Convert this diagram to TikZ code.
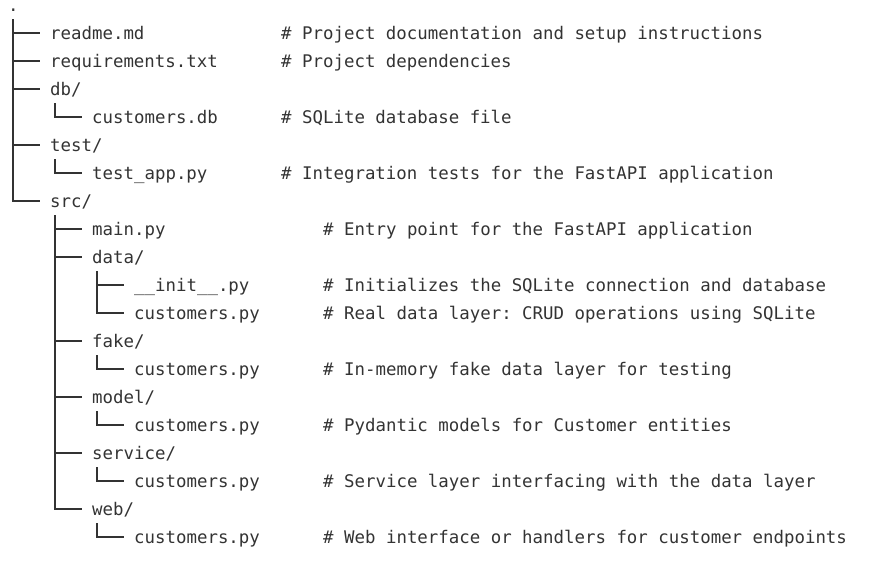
\documentclass[tikz,border=0pt]{standalone}
\usepackage{fontspec}
\setmonofont{DejaVu Sans Mono}
\usetikzlibrary{calc}
\definecolor{ink}{HTML}{333333}
\tikzset{
    entry/.style={anchor=west, inner sep=0pt, text height=12pt, text depth=0pt,
        text=ink, font=\ttfamily\fontsize{17.4}{21}\selectfont},
    branch/.style={draw=ink, line width=1.2pt, shorten >=10pt}
}
\begin{document}
\begin{tikzpicture}[x=1pt,y=-1pt]
        \useasboundingbox (0,0) rectangle (882,563);

        % the tree, one row every 28
        \node[entry, text height=2pt, anchor=base west] (root) at (8,11) {.};
        \node[entry] (readme) at (50,33) {readme.md};
        \node[entry] (req) at (50,61) {requirements.txt};
        \node[entry] (db) at (50,89) {db/};
        \node[entry] (dbfile) at (92,117) {customers.db};
        \node[entry] (test) at (50,145) {test/};
        \node[entry] (testapp) at (92,173) {test\_app.py};
        \node[entry] (src) at (50,201) {src/};
        \node[entry] (main) at (92,229) {main.py};
        \node[entry] (data) at (92,257) {data/};
        \node[entry] (init) at (134,285) {\_\_init\_\_.py};
        \node[entry] (datacust) at (134,313) {customers.py};
        \node[entry] (fake) at (92,341) {fake/};
        \node[entry] (fakecust) at (134,369) {customers.py};
        \node[entry] (model) at (92,397) {model/};
        \node[entry] (modelcust) at (134,425) {customers.py};
        \node[entry] (service) at (92,453) {service/};
        \node[entry] (servcust) at (134,481) {customers.py};
        \node[entry] (web) at (92,509) {web/};
        \node[entry] (webcust) at (134,537) {customers.py};

        % comments
        \node[entry] (creadme) at (281,33) {\# Project documentation and setup instructions};
        \node[entry] (creq) at (281,61) {\# Project dependencies};
        \node[entry] (cdbfile) at (281,117) {\# SQLite database file};
        \node[entry] (ctestapp) at (281,173) {\# Integration tests for the FastAPI application};
        \node[entry] (cmain) at (323,229) {\# Entry point for the FastAPI application};
        \node[entry] (cinit) at (323,285) {\# Initializes the SQLite connection and database};
        \node[entry] (cdatacust) at (323,313) {\# Real data layer: CRUD operations using SQLite};
        \node[entry] (cfakecust) at (323,369) {\# In-memory fake data layer for testing};
        \node[entry] (cmodelcust) at (323,425) {\# Pydantic models for Customer entities};
        \node[entry] (cservcust) at (323,481) {\# Service layer interfacing with the data layer};
        \node[entry] (cwebcust) at (323,537) {\# Web interface or handlers for customer endpoints};

        % branches
        \draw[branch] ($(root.base west)+(5,8)$) |- (readme.west);
        \draw[branch] ($(root.base west)+(5,8)$) |- (req.west);
        \draw[branch] ($(root.base west)+(5,8)$) |- (db.west);
        \draw[branch] ($(root.base west)+(5,8)$) |- (test.west);
        \draw[branch] ($(root.base west)+(5,8)$) |- (src.west);
        \draw[branch] ($(db.west)+(5,14)$) |- (dbfile.west);
        \draw[branch] ($(test.west)+(5,14)$) |- (testapp.west);
        \draw[branch] ($(src.west)+(5,14)$) |- (main.west);
        \draw[branch] ($(src.west)+(5,14)$) |- (data.west);
        \draw[branch] ($(src.west)+(5,14)$) |- (fake.west);
        \draw[branch] ($(src.west)+(5,14)$) |- (model.west);
        \draw[branch] ($(src.west)+(5,14)$) |- (service.west);
        \draw[branch] ($(src.west)+(5,14)$) |- (web.west);
        \draw[branch] ($(data.west)+(5,14)$) |- (init.west);
        \draw[branch] ($(data.west)+(5,14)$) |- (datacust.west);
        \draw[branch] ($(fake.west)+(5,14)$) |- (fakecust.west);
        \draw[branch] ($(model.west)+(5,14)$) |- (modelcust.west);
        \draw[branch] ($(service.west)+(5,14)$) |- (servcust.west);
        \draw[branch] ($(web.west)+(5,14)$) |- (webcust.west);
    \end{tikzpicture}
\end{document}
